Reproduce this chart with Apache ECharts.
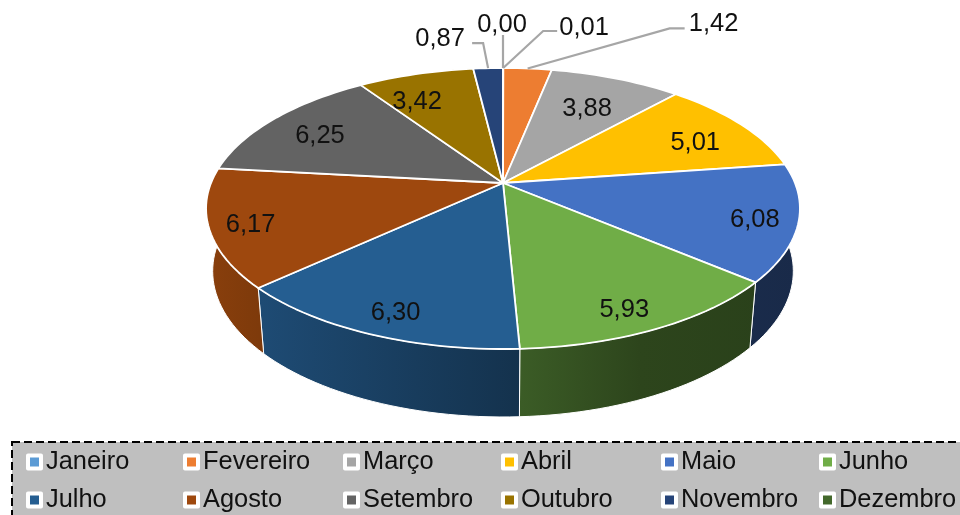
<!DOCTYPE html>
<html>
<head>
<meta charset="utf-8">
<style>html,body{margin:0;padding:0;background:#fff}#c{width:960px;height:515px}</style>
<script src="https://cdn.jsdelivr.net/npm/echarts@6/dist/echarts.min.js"></script>
</head>
<body>
<div id="c"></div>
<script>
const months = ['Janeiro','Fevereiro','Março','Abril','Maio','Junho','Julho','Agosto','Setembro','Outubro','Novembro','Dezembro'];
const values = [0.01,1.42,3.88,5.01,6.08,5.93,6.30,6.17,6.25,3.42,0.87,0.00];
const colors = ['#5B9BD5','#ED7D31','#A5A5A5','#FFC000','#4472C4','#70AD47','#255E91','#9E480E','#636363','#997300','#264478','#43682B'];

// Projection of the tilted disc
const P = {cx:503, cy:183, k:0.1815, ax:292, ay:135.9, bx:285.5, bcy:244.7, by:141};
// Layout of labels: nudges from the r=0.8 point (inside) or the rim point (leader labels)
const insideNudge = {2:[-9,12],3:[-1,8],4:[18,6],5:[2.5,15],6:[-5,14],7:[-20,6],8:[3,5],9:[-14,9]};
const leaders = {
  0:{elbow:[40,-37],end:[54,-37],label:[81,-40]},
  1:{elbow:[142,-40],end:[157,-40],label:[186,-44]},
  10:{elbow:[-5,-25],end:[-16,-25],label:[-48,-29]},
  11:{elbow:[0,-33],end:[0,-33],label:[-1,-43]}
};
const shadeStops = [[0,.87],[.09,.8],[.53,.53],[.73,.40],[1,.37]];
const legendColumns = [26,183,343,501,661,819];
const legendRows = [443,481];

const total = values.reduce((a,b)=>a+b,0);
const TXT = '#111';
function fmt(v){return v.toFixed(2).replace('.',',');}
function rimTop(th,r){r=r===undefined?1:r;const x=Math.sin(th)*r,y=-Math.cos(th)*r,d=1-P.k*y;return [P.cx+P.ax*x/d,P.cy+P.ay*y/d];}
function rimBot(th){const x=Math.sin(th),y=-Math.cos(th),d=1-P.k*y;return [P.cx+P.bx*x/d,P.bcy+P.by*y/d];}
function shade(hex,f){const n=parseInt(hex.slice(1),16);return 'rgb('+[(n>>16)&255,(n>>8)&255,n&255].map(c=>Math.round(c*f)).join(',')+')';}

function makeSeries(i){
  const before = values.slice(0,i).reduce((a,b)=>a+b,0);
  return {
    type:'custom', name:months[i], coordinateSystem:'none', color:colors[i],
    itemStyle:{color:colors[i]}, animation:false, silent:true, clip:false,
    data:[[values[i]]],
    renderItem:function(params,api){
      const v = api.value(0);
      const a0 = before/total*2*Math.PI, a1 = (before+v)/total*2*Math.PI, mid=(a0+a1)/2;
      const arc=[]; const n=Math.max(1,Math.ceil((a1-a0)/0.03));
      for(let j=0;j<=n;j++) arc.push(a0+(a1-a0)*j/n);
      const kids=[];
      if(a1-a0>0.01){
        const wall=arc.map(a=>rimTop(a)).concat(arc.slice().reverse().map(a=>rimBot(a)));
        kids.push({type:'polygon',z2:1,shape:{points:wall},style:{
          fill:new echarts.graphic.LinearGradient(206,0,800,0,shadeStops.map(s=>({offset:s[0],color:shade(colors[i],s[1])})),true),
          stroke:'#fff',lineWidth:1}});
      }
      kids.push({type:'polygon',z2:10,shape:{points:[[P.cx,P.cy]].concat(arc.map(a=>rimTop(a)))},
        style:{fill:colors[i],stroke:'#fff',lineWidth:1.8,lineJoin:'round'}});
      const L=leaders[i];
      let tx,ty;
      if(L){
        const rim=rimTop(mid);
        const pts=[rim,[rim[0]+L.elbow[0],rim[1]+L.elbow[1]],[rim[0]+L.end[0],rim[1]+L.end[1]]];
        kids.push({type:'polyline',z2:15,shape:{points:pts},style:{fill:null,stroke:'#A6A6A6',lineWidth:2.2}});
        tx=rim[0]+L.label[0];ty=rim[1]+L.label[1];
      }else{
        const p=rimTop(mid,0.8),d=insideNudge[i];
        tx=p[0]+d[0];ty=p[1]+d[1];
      }
      kids.push({type:'text',z2:20,style:{text:fmt(v),x:tx,y:ty,fill:TXT,align:'center',verticalAlign:'middle',
        font:'25.5px "Liberation Sans", Arial, sans-serif'}});
      return {type:'group',children:kids};
    }
  };
}

const chart = echarts.init(document.getElementById('c'),null,{renderer:'canvas'});
chart.setOption({
  animation:false,
  backgroundColor:'#fff',
  graphic:[{type:'rect',z:-1,silent:true,shape:{x:12,y:442,width:970,height:100},
    style:{fill:'#BFBFBF',stroke:'#000',lineWidth:2,lineDash:[8,4]}}],
  legend:months.map((m,i)=>({
    data:[m], left:legendColumns[i%6], top:legendRows[i<6?0:1], padding:0, itemGap:0, itemWidth:13, itemHeight:13,
    selectedMode:false, icon:'rect',
    itemStyle:{borderColor:'#fff',borderWidth:4,borderJoin:'round'},
    textStyle:{height:38,lineHeight:38,fontSize:25.4,color:TXT,fontFamily:'"Liberation Sans", Arial, sans-serif'}
  })),
  series:months.map((m,i)=>makeSeries(i))
});
</script>
</body>
</html>
